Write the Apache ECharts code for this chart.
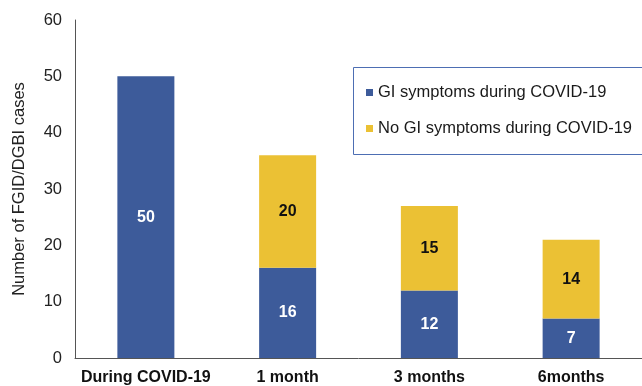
<!DOCTYPE html>
<html>
<head>
<meta charset="utf-8">
<script src="https://cdn.jsdelivr.net/npm/echarts@6/dist/echarts.min.js"></script>
<style>
  html, body { margin: 0; padding: 0; background: #fff; }
  #chart { width: 642px; height: 386px; }
</style>
</head>
<body>
<div id="chart"></div>
<script>
// Follow-up periods
const categories = ['During COVID-19', '1 month', '3 months', '6months'];
// FGID/DGBI cases with GI symptoms during COVID-19
const giSymptoms = [50, 16, 12, 7];
// FGID/DGBI cases without GI symptoms during COVID-19 (none at the first period)
const noGiSymptoms = [null, 20, 15, 14];
const yTicks = [0, 10, 20, 30, 40, 50, 60];

const FONT = 'Liberation Sans, Arial, Helvetica, sans-serif';
const BLUE = '#3d5b9a';
const YELLOW = '#ebc134';

const chart = echarts.init(document.getElementById('chart'));
chart.setOption({
  animation: false,
  textStyle: { fontFamily: FONT },
  grid: { left: 75, right: 0, top: 20, bottom: 28, containLabel: false, outerBoundsMode: 'none' },
  legend: {
    orient: 'vertical',
    left: 366,
    top: 84,
    padding: 0,
    itemWidth: 7,
    itemHeight: 7,
    itemGap: 19,
    icon: 'rect',
    textStyle: { fontFamily: FONT, fontSize: 16.5, color: '#1a1a1a', lineHeight: 17, padding: [0, 0, 0, 0] },
    data: ['GI symptoms during COVID-19', 'No GI symptoms during COVID-19']
  },
  graphic: [{
    type: 'rect',
    left: 351, top: 65,
    shape: { width: 300, height: 87 },
    style: { fill: 'none', stroke: '#4d6eb3', lineWidth: 1 },
    z: 10
  }],
  xAxis: {
    type: 'category',
    data: categories,
    axisLine: { show: true, lineStyle: { color: '#555', width: 1 } },
    axisTick: { show: false },
    axisLabel: { interval: 0, fontFamily: FONT, fontSize: 16, fontWeight: 'bold', color: '#111', margin: 12 }
  },
  yAxis: {
    type: 'value',
    min: yTicks[0],
    max: yTicks[yTicks.length - 1],
    interval: 10,
    name: 'Number of FGID/DGBI cases',
    nameLocation: 'middle',
    nameRotate: 90,
    nameGap: 47,
    nameTextStyle: { fontFamily: FONT, fontSize: 16.5, color: '#222' },
    axisLine: { show: true, lineStyle: { color: '#555', width: 1 } },
    axisTick: { show: false },
    splitLine: { show: false },
    axisLabel: { fontFamily: FONT, fontSize: 16.5, color: '#222', margin: 13 }
  },
  series: [
    {
      name: 'GI symptoms during COVID-19',
      type: 'bar',
      stack: 'cases',
      data: giSymptoms,
      barWidth: 57,
      itemStyle: { color: BLUE },
      label: { show: true, position: 'inside', color: '#fff', fontWeight: 'bold', fontSize: 16, fontFamily: FONT }
    },
    {
      name: 'No GI symptoms during COVID-19',
      type: 'bar',
      stack: 'cases',
      data: noGiSymptoms,
      barWidth: 57,
      itemStyle: { color: YELLOW },
      label: { show: true, position: 'inside', color: '#111', fontWeight: 'bold', fontSize: 16, fontFamily: FONT }
    }
  ]
});
</script>
</body>
</html>
